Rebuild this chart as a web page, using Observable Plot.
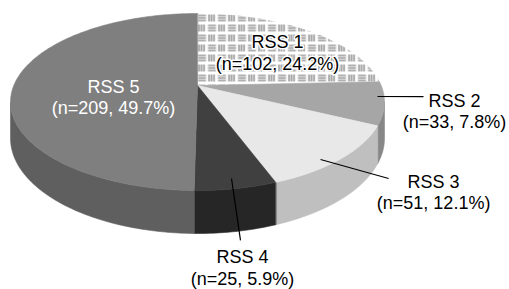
<!DOCTYPE html>
<html><head><meta charset="utf-8">
<script src="https://cdn.jsdelivr.net/npm/d3@7"></script>
<script src="https://cdn.jsdelivr.net/npm/@observablehq/plot@0.6"></script>
<style>body{margin:0;background:#fff;} svg{display:block}</style>
</head><body><div id="chart"></div>
<script>
// ---- data ----
const categories = ["RSS 1", "RSS 2", "RSS 3", "RSS 4", "RSS 5"];
const counts = [102, 33, 51, 25, 209];
const percents = [24.2, 7.8, 12.1, 5.9, 49.7];

// ---- styles ----
const topColors = ["url(#rss1-pattern)", "#a6a6a6", "#e8e8e8", "#404040", "#7f7f7f"];
const sideColors = ["#bdbdbd", "#878787", "#bfbfbf", "#262626", "#5f5f5f"];
const textColors = ["#000", "#000", "#000", "#000", "#fff"];

// ---- label placement in pie polar coords (deg clockwise from 12 o'clock, radius as fraction) ----
const labelAngle = [47.6, 101.8, 134.0, 173.4, 254.3];
const labelRadius = [0.637, 1.355, 1.451, 1.53, 0.464];
const leaderStart = [null, [97.5, 0.965], [142.3, 0.943], [170.35, 0.918], null];
const leaderEnd = [null, [96.0, 1.208], [136.3, 1.252], [172.65, 1.367], null];

const W = 509, H = 289;
const geom = {cx: 197, cy: 85, A: 183.7, B: 85.4, k: 0.1864, T: 35};
function proj(deg, r, drop = 0) {
  const t = deg * Math.PI / 180;
  const U = r * Math.sin(t), V = r * Math.cos(t);
  const w = 1 + geom.k * V;
  return [geom.cx + geom.A * U / w, geom.cy - geom.B * V / w + drop * geom.T / w];
}
function arc(a0, a1, drop) {
  const n = Math.max(2, Math.ceil(Math.abs(a1 - a0) / 1));
  const pts = [];
  for (let i = 0; i <= n; i++) pts.push(proj(a0 + (a1 - a0) * i / n, 1, drop));
  return pts;
}

const total = d3.sum(counts);
const cum = d3.cumsum(counts);
const starts = counts.map((c, i) => 360 * (cum[i] - c) / total);
const ends = counts.map((c, i) => 360 * cum[i] / total);
const sVis0 = Math.acos(-geom.k) * 180 / Math.PI, sVis1 = 360 - sVis0;

const marks = [];
// side walls
counts.forEach((c, i) => {
  const lo = Math.max(starts[i], sVis0), hi = Math.min(ends[i], sVis1);
  if (lo < hi) {
    const pts = arc(lo, hi, 0).concat(arc(hi, lo, 1));
    marks.push(Plot.line(pts, {x: d => d[0], y: d => d[1], curve: "linear-closed",
      fill: sideColors[i], stroke: sideColors[i], strokeWidth: 0.6}));
  }
});
// top faces
counts.forEach((c, i) => {
  const pts = [proj(0, 0)].concat(arc(starts[i], ends[i], 0));
  marks.push(Plot.line(pts, {x: d => d[0], y: d => d[1], curve: "linear-closed",
    fill: topColors[i], stroke: i === 0 ? "none" : topColors[i], strokeWidth: 0.6}));
});
// leader lines
const leaders = categories.map((c, i) => leaderStart[i] ? {
  p0: proj(leaderStart[i][0], leaderStart[i][1]), p1: proj(leaderEnd[i][0], leaderEnd[i][1])
} : null).filter(d => d);
marks.push(Plot.link(leaders, {x1: d => d.p0[0], y1: d => d.p0[1], x2: d => d.p1[0], y2: d => d.p1[1],
  stroke: "#000", strokeWidth: 1.2}));
// labels
const labels = categories.map((c, i) => {
  const p = proj(labelAngle[i], labelRadius[i]);
  return {x: p[0], y: p[1], text: `${c}\n(n=${counts[i]}, ${percents[i]}%)`, fill: textColors[i], i};
});
const font = "'Liberation Sans', Arial, sans-serif";
marks.push(Plot.text(labels.filter(d => d.i === 0), {x: "x", y: "y", text: "text", fill: "#000",
  stroke: "#fff", strokeWidth: 3, fontSize: 18, fontFamily: font, lineHeight: 1.22}));
marks.push(Plot.text(labels.filter(d => d.i !== 0), {x: "x", y: "y", text: "text", fill: d => d.fill,
  fontSize: 18, fontFamily: font, lineHeight: 1.22}));

const svg = Plot.plot({
  width: W, height: H, margin: 0,
  x: {domain: [0, W], range: [0, W], axis: null},
  y: {domain: [0, H], range: [0, H], axis: null},
  color: {type: "identity"},
  style: {background: "#fff"},
  marks
});

// hatch pattern for RSS 1
const defs = d3.select(svg).insert("defs", ":first-child");
const pat = defs.append("pattern").attr("id", "rss1-pattern").attr("patternUnits", "userSpaceOnUse")
  .attr("width", 20).attr("height", 20).attr("x", 197).attr("y", 13);
pat.append("rect").attr("width", 20).attr("height", 20).attr("fill", "#fff");
function hBlock(x0, y0) { [1.5, 4, 6.5].forEach(dy => pat.append("rect").attr("x", x0).attr("y", y0 + dy - 0.6).attr("width", 8).attr("height", 1.2).attr("fill", "#7d7d7d")); }
function vBlock(x0, y0) { [1, 3.5, 6].forEach(dx => pat.append("rect").attr("x", x0 + dx - 0.6).attr("y", y0 + 0.5).attr("width", 1.3).attr("height", 7).attr("fill", "#7d7d7d")); }
hBlock(0.5, 0.5); vBlock(10.5, 0.5); vBlock(0.5, 10.5); hBlock(10.5, 10.5);

document.getElementById("chart").appendChild(svg);
</script>
</body></html>
